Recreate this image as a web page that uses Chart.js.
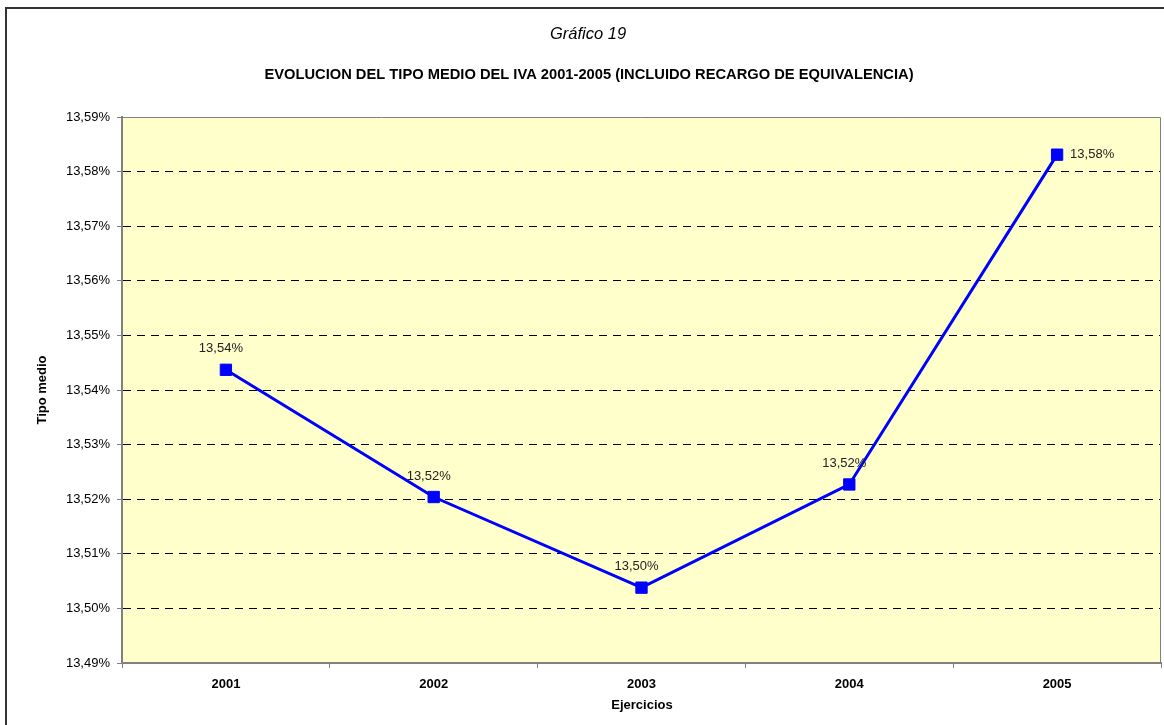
<!DOCTYPE html>
<html>
<head>
<meta charset="utf-8">
<style>
  html, body { margin: 0; padding: 0; background: #fff; }
  #wrap { width: 1164px; height: 725px; position: relative; }
</style>
<script src="https://cdn.jsdelivr.net/npm/chart.js@4/dist/chart.umd.min.js"></script>
</head>
<body>
<div id="wrap"><canvas id="chart" width="1164" height="725"></canvas></div>
<script>
// data (values in %)
var years = ['2001', '2002', '2003', '2004', '2005']
var tipoMedio = [13.5437, 13.5204, 13.5038, 13.5227, 13.5831]
var yMin = 13.49
var yMax = 13.59
var yStep = 0.01

var chartTitle = 'Gráfico 19'
var chartSubtitle = 'EVOLUCION DEL TIPO MEDIO DEL IVA 2001-2005 (INCLUIDO RECARGO DE EQUIVALENCIA)'
var xTitle = 'Ejercicios'
var yTitle = 'Tipo medio'

var FONT = 'Arial, "Liberation Sans", sans-serif'

function pct(v) {
  return v.toFixed(2).replace('.', ',') + '%'
}

// frame, plot background and titles
var decorPlugin = {
  id: 'decor',
  beforeDraw: function(chart) {
    var ctx = chart.ctx, a = chart.chartArea
    ctx.save()
    ctx.fillStyle = '#fff'
    ctx.fillRect(0, 0, chart.width, chart.height)
    ctx.strokeStyle = '#333'
    ctx.lineWidth = 2
    ctx.strokeRect(6, 8, 1300, 900)
    ctx.fillStyle = '#FFFFCC'
    ctx.fillRect(a.left, a.top, a.right - a.left, a.bottom - a.top)
    ctx.restore()
  },
  afterDraw: function(chart) {
    var ctx = chart.ctx, a = chart.chartArea
    ctx.save()
    ctx.strokeStyle = '#808080'
    ctx.lineWidth = 1
    ctx.beginPath()
    ctx.moveTo(a.left, a.top + 0.5)
    ctx.lineTo(a.right - 0.5, a.top + 0.5)
    ctx.lineTo(a.right - 0.5, a.bottom)
    ctx.stroke()

    ctx.fillStyle = '#000'
    ctx.textAlign = 'center'
    ctx.textBaseline = 'middle'
    ctx.font = 'italic 16.5px ' + FONT
    ctx.fillText(chartTitle, 588, 34)
    ctx.font = 'bold 14.7px ' + FONT
    ctx.fillText(chartSubtitle, 589, 75)
    ctx.font = 'bold 13px ' + FONT
    ctx.fillText(xTitle, 642, 705)
    ctx.translate(42, 390)
    ctx.rotate(-Math.PI / 2)
    ctx.fillText(yTitle, 0, 0)
    ctx.restore()
  }
}

// value labels next to the markers
var labelPlugin = {
  id: 'valueLabels',
  afterDatasetsDraw: function(chart) {
    var ctx = chart.ctx
    var meta = chart.getDatasetMeta(0)
    var values = chart.data.datasets[0].data
    ctx.save()
    ctx.font = '13px ' + FONT
    ctx.fillStyle = '#222'
    ctx.textBaseline = 'middle'
    meta.data.forEach(function(pt, i) {
      if (i === values.length - 1) {
        ctx.textAlign = 'left'
        ctx.fillText(pct(values[i]), pt.x + 13, pt.y)
      } else {
        ctx.textAlign = 'center'
        ctx.fillText(pct(values[i]), pt.x - 5, pt.y - 21)
      }
    })
    ctx.restore()
  }
}

new Chart(document.getElementById('chart').getContext('2d'), {
  type: 'line',
  data: {
    labels: years,
    datasets: [{
      label: yTitle,
      data: tipoMedio,
      borderColor: '#0000FF',
      backgroundColor: '#0000FF',
      borderWidth: 3,
      pointStyle: 'rect',
      pointRadius: 8,
      pointBorderWidth: 1,
      pointBorderColor: '#0000FF',
      pointBackgroundColor: '#0000FF',
      tension: 0,
      fill: false
    }]
  },
  options: {
    responsive: false,
    animation: false,
    layout: { autoPadding: false, padding: { left: 0, right: 3, top: 117, bottom: 0 } },
    plugins: {
      legend: { display: false },
      title: { display: false },
      tooltip: { enabled: false }
    },
    scales: {
      x: {
        offset: true,
        grid: {
          offset: true,
          drawOnChartArea: false,
          tickLength: 5,
          tickColor: '#808080'
        },
        border: { color: '#808080', width: 2 },
        ticks: {
          color: '#000',
          padding: 9,
          font: { family: FONT, size: 13, weight: 'bold' }
        },
        afterFit: function(scale) {
          scale.height = 62
          scale.paddingLeft = 0
          scale.paddingRight = 0
        }
      },
      y: {
        min: yMin,
        max: yMax,
        grid: {
          color: function(c) {
            var v = c.tick ? c.tick.value : null
            if (v === null) return 'transparent'
            if (Math.abs(v - yMin) < 1e-6 || Math.abs(v - yMax) < 1e-6) return 'transparent'
            return '#000'
          },
          lineWidth: 1,
          tickLength: 5,
          tickColor: '#808080'
        },
        border: { color: '#808080', width: 2, dash: [8, 6] },
        ticks: {
          stepSize: yStep,
          color: '#000',
          padding: 7,
          font: { family: FONT, size: 13 },
          callback: function(v) { return pct(v) }
        },
        afterFit: function(scale) { scale.width = 122 }
      }
    }
  },
  plugins: [decorPlugin, labelPlugin]
})
</script>
</body>
</html>
